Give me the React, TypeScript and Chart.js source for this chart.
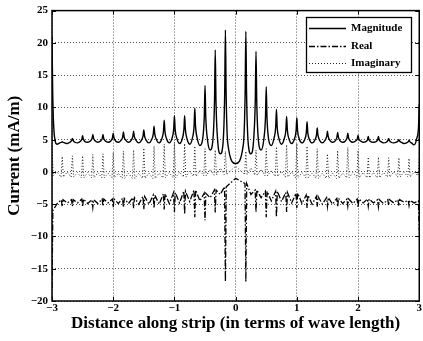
import React, { useEffect, useRef } from "react";
import { Chart, registerables } from "chart.js";

Chart.register(...registerables);

const FONT = '"Liberation Serif", "Times New Roman", serif';

const xTicks = [-3, -2, -1, 0, 1, 2, 3];
const yTicks = [-20, -15, -10, -5, 0, 5, 10, 15, 20, 25];
const seriesNames = ["Magnitude", "Real", "Imaginary"];
const xTitle = "Distance along strip (in terms of wave length)";
const yTitle = "Current (mA/m)";

// resonance positions along the strip (wavelengths)
const spikeX = [
  -3, -2.833, -2.667, -2.5, -2.333, -2.167, -2, -1.833, -1.667, -1.5, -1.333, -1.167,
  -1, -0.833, -0.667, -0.5, -0.333, -0.167,
  0.167, 0.333, 0.5, 0.667, 0.833, 1, 1.167, 1.333, 1.5, 1.667, 1.833, 2,
  2.167, 2.333, 2.5, 2.667, 2.833, 3,
];

// Magnitude
const magPeak = [
  21, 4.7, 5.2, 5.6, 5.8, 5.8, 6.0, 6.2, 6.3, 6.5, 7.1, 8.0, 8.7, 8.7, 9.9, 13.4, 18.9, 22,
  21.8, 18.7, 13.2, 9.7, 8.6, 8.4, 7.8, 6.8, 6.3, 6.1, 6.0, 5.7, 5.5, 5.5, 5.2, 5.0, 4.9, 10.5,
];
const magNear = [
  12, 4.6, 4.9, 5.1, 5.2, 5.2, 5.3, 5.4, 5.5, 5.6, 5.9, 6.3, 6.6, 6.6, 7.1, 8.6, 11.0, 12.0,
  12.0, 11.0, 8.5, 7.0, 6.5, 6.4, 6.1, 5.7, 5.5, 5.4, 5.3, 5.1, 5.0, 5.0, 4.9, 4.8, 4.7, 7.0,
];
const magFoot = [
  5.5, 4.5, 4.6, 4.7, 4.8, 4.8, 4.8, 4.9, 4.9, 4.9, 5.0, 5.1, 5.2, 5.1, 5.2, 5.0, 4.8, 4.3,
  4.3, 4.8, 5.0, 5.2, 5.1, 5.1, 5.0, 4.9, 4.9, 4.8, 4.8, 4.8, 4.7, 4.7, 4.6, 4.6, 4.5, 5.2,
];
const magMid = [
  4.3, 4.4, 4.5, 4.6, 4.6, 4.6, 4.6, 4.6, 4.5, 4.5, 4.5, 4.5, 4.4, 4.3, 4.1, 3.4, 2.8,
  1.3,
  2.8, 3.4, 4.1, 4.3, 4.4, 4.5, 4.5, 4.5, 4.6, 4.6, 4.6, 4.6, 4.6, 4.5, 4.5, 4.4, 4.2,
];

// Real
const realUp = [
  -6, -4.3, -4.3, -4.2, -4.3, -4.2, -4.2, -4.1, -4.0, -3.8, -3.6, -3.4, -3.2, -3.0, -2.8, -3.3, -2.8, -2.3,
  -1.8, -2.8, -3.0, -3.0, -3.2, -3.3, -3.6, -3.8, -4.0, -4.1, -4.2, -4.2, -4.2, -4.3, -4.3, -4.3, -4.4, -4.5,
];
const realDown = [
  -18, -5.4, -5.3, -5.4, -5.5, -5.3, -5.5, -5.5, -5.6, -5.8, -5.6, -5.8, -6.2, -6.5, -7.0, -7.5, -6.3, -17,
  -17, -6.2, -7.0, -7.0, -6.2, -5.6, -5.6, -5.4, -5.3, -5.4, -5.3, -5.5, -5.3, -5.4, -5.2, -5.3, -5.2, -9,
];
const realMid = [
  -4.9, -4.8, -4.8, -4.9, -4.9, -4.8, -4.9, -4.9, -5.0, -5.0, -5.0, -4.9, -4.8, -4.6, -4.5, -4.0, -3.5,
  -1.0,
  -3.5, -4.0, -4.5, -4.6, -4.8, -4.9, -5.0, -5.0, -5.0, -4.9, -4.9, -4.8, -4.8, -4.9, -4.8, -4.7, -4.8,
];

// Imaginary
const imagTop = [
  4.0, 2.4, 2.5, 2.5, 2.7, 2.8, 3.0, 3.2, 3.4, 3.7, 4.0, 4.3, 4.6, 4.4, 4.0, 3.6, 3.4, 3.2,
  3.2, 3.4, 3.6, 3.9, 4.2, 4.4, 4.0, 3.6, 2.8, 3.3, 3.8, 3.3, 2.3, 2.3, 2.2, 2.2, 2.1, 2.0,
];
const imagDip = [
  -0.6, -0.8, -0.8, -0.9, -0.9, -0.9, -0.9, -1.0, -1.0, -1.0, -1.0, -0.9, -0.9, -0.8, -0.7, -0.6, -0.5, -0.4,
  -0.4, -0.5, -0.6, -0.7, -0.8, -0.9, -0.9, -1.0, -1.0, -1.0, -0.9, -0.9, -0.9, -0.9, -0.8, -0.8, -0.8, -0.6,
];
const imagMid = [
  0.0, 0.0, -0.1, -0.1, -0.1, -0.2, -0.2, -0.2, -0.2, -0.2, -0.2, -0.1, 0.0, 0.1, 0.2, 0.4, 0.6,
  0.9,
  0.6, 0.4, 0.2, 0.1, 0.0, -0.1, -0.2, -0.2, -0.2, -0.2, -0.1, -0.1, -0.1, -0.1, 0.0, 0.0, 0.0,
];

type Pt = { x: number; y: number };

function buildSeries(shape: [number, number[]][], mids: number[]): Pt[] {
  const pts: Pt[] = [];
  spikeX.forEach((xs, i) => {
    shape.forEach(([dx, arr]) => {
      const x = xs + dx;
      if (x >= -3.0001 && x <= 3.0001) pts.push({ x, y: arr[i] });
    });
    if (i < spikeX.length - 1) {
      pts.push({ x: (xs + spikeX[i + 1]) / 2, y: mids[i] });
    }
  });
  return pts;
}

const magData = buildSeries(
  [[-0.04, magFoot], [-0.012, magNear], [0, magPeak], [0.012, magNear], [0.04, magFoot]],
  magMid
);
const realData = buildSeries([[-0.014, realUp], [0, realDown], [0.014, realUp]], realMid);
const imagData = buildSeries([[-0.02, imagDip], [0, imagTop], [0.02, imagDip]], imagMid);

const fmt = (v: number | string) => String(v).replace("-", "\u2212");

const framePlugin = {
  id: "matlabFrame",
  afterDatasetsDraw(chart: any) {
    const { ctx, chartArea: a, scales } = chart;
    ctx.save();
    ctx.setLineDash([]);
    ctx.strokeStyle = "#000";
    ctx.lineWidth = 1;
    ctx.beginPath();
    for (const v of xTicks) {
      const px = Math.round(scales.x.getPixelForValue(v)) + 0.5;
      ctx.moveTo(px, a.bottom);
      ctx.lineTo(px, a.bottom - 4);
      ctx.moveTo(px, a.top);
      ctx.lineTo(px, a.top + 4);
    }
    for (const v of yTicks) {
      const py = Math.round(scales.y.getPixelForValue(v)) + 0.5;
      ctx.moveTo(a.left, py);
      ctx.lineTo(a.left + 4, py);
      ctx.moveTo(a.right, py);
      ctx.lineTo(a.right - 4, py);
    }
    ctx.stroke();
    ctx.lineWidth = 1.5;
    ctx.strokeRect(a.left, a.top, a.right - a.left, a.bottom - a.top);

    // legend
    const bw = 105;
    const bh = 55;
    const bx = Math.round(a.right - 8 - bw);
    const by = Math.round(a.top + 6);
    ctx.fillStyle = "#fff";
    ctx.fillRect(bx, by, bw, bh);
    ctx.lineWidth = 1.3;
    ctx.strokeRect(bx + 0.5, by + 0.5, bw, bh);
    const rows = [11, 29, 46];
    chart.data.datasets.forEach((ds: any, i: number) => {
      const y = by + rows[i] + 0.5;
      ctx.setLineDash(ds.borderDash || []);
      ctx.lineWidth = ds.borderWidth;
      ctx.strokeStyle = ds.borderColor;
      ctx.beginPath();
      ctx.moveTo(bx + 3, y);
      ctx.lineTo(bx + 40, y);
      ctx.stroke();
      ctx.setLineDash([]);
      ctx.fillStyle = "#000";
      ctx.font = `bold 11px ${FONT}`;
      ctx.textBaseline = "middle";
      ctx.textAlign = "left";
      ctx.fillText(ds.label, bx + 45, y);
    });
    ctx.restore();
  },
};

export default function App() {
  const canvasRef = useRef<HTMLCanvasElement | null>(null);

  useEffect(() => {
    const canvas = canvasRef.current;
    if (!canvas) return;
    const tickFont = { family: FONT, size: 11, weight: "bold" as const };
    const titleFont = { family: FONT, size: 17, weight: "bold" as const };
    const chart = new Chart(canvas, {
      type: "line",
      data: {
        datasets: [
          {
            label: seriesNames[0],
            data: magData,
            borderColor: "#000",
            borderWidth: 1.4,
            pointRadius: 0,
            cubicInterpolationMode: "monotone",
          },
          {
            label: seriesNames[1],
            data: realData,
            borderColor: "#000",
            borderWidth: 1.3,
            borderDash: [6, 2, 1.5, 2],
            pointRadius: 0,
          },
          {
            label: seriesNames[2],
            data: imagData,
            borderColor: "#222",
            borderWidth: 1,
            borderDash: [1, 2],
            pointRadius: 0,
          },
        ],
      },
      options: {
        animation: false,
        responsive: false,
        events: [],
        layout: { padding: { top: 8, right: 2, left: 0, bottom: 0 } },
        plugins: { legend: { display: false }, tooltip: { enabled: false } },
        scales: {
          x: {
            type: "linear",
            min: -3,
            max: 3,
            afterFit: (s: any) => {
              s.height = 40;
            },
            afterBuildTicks: (s: any) => {
              s.ticks = xTicks.map((v) => ({ value: v }));
            },
            ticks: {
              color: "#000",
              font: tickFont,
              padding: 1,
              maxRotation: 0,
              autoSkip: false,
              callback: (v: any) => fmt(v),
            },
            grid: { color: "#555", lineWidth: 1, drawTicks: false },
            border: { display: false, dash: [1, 2] },
            title: {
              display: true,
              text: xTitle,
              color: "#000",
              font: titleFont,
              padding: { top: 0, bottom: 7 },
            },
          },
          y: {
            type: "linear",
            min: -20,
            max: 25,
            afterFit: (s: any) => {
              s.width = 52;
            },
            afterBuildTicks: (s: any) => {
              s.ticks = yTicks.map((v) => ({ value: v }));
            },
            ticks: {
              color: "#000",
              font: tickFont,
              padding: 4,
              autoSkip: false,
              callback: (v: any) => fmt(v),
            },
            grid: { color: "#555", lineWidth: 1, drawTicks: false },
            border: { display: false, dash: [1, 2] },
            title: {
              display: true,
              text: yTitle,
              color: "#000",
              font: titleFont,
              padding: { top: 4, bottom: 0 },
            },
          },
        },
      },
      plugins: [framePlugin],
    } as any);
    return () => chart.destroy();
  }, []);

  return (
    <div style={{ position: "absolute", left: 0, top: 0, width: 423, height: 341, background: "#fff" }}>
      <canvas ref={canvasRef} width={423} height={341} style={{ display: "block" }} />
    </div>
  );
}
